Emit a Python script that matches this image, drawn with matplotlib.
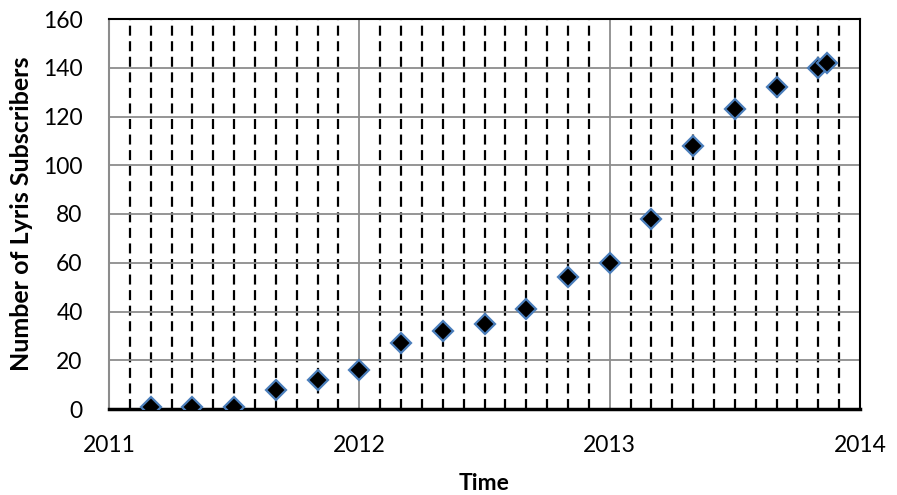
import numpy as np
import matplotlib.pyplot as plt
from matplotlib.ticker import MultipleLocator

plt.rcParams['font.family'] = ['Lato', 'DejaVu Sans']

# Data: bimonthly subscriber counts
time = [2011 + 2/12, 2011 + 4/12, 2011 + 6/12, 2011 + 8/12, 2011 + 10/12,
        2012.0, 2012 + 2/12, 2012 + 4/12, 2012 + 6/12, 2012 + 8/12, 2012 + 10/12,
        2013.0, 2013 + 2/12, 2013 + 4/12, 2013 + 6/12, 2013 + 8/12, 2013 + 10/12,
        2013.867]
subscribers = [1, 1, 1, 8, 12, 16, 27, 32, 35, 41, 54, 60, 78, 108, 123, 132, 140, 142]

fig = plt.figure(figsize=(8.97, 4.95), dpi=100)
ax = fig.add_axes([109/897, 1 - 409/495, 751/897, 390/495])

ax.set_xlim(2011, 2014)
ax.set_ylim(0, 160)
ax.xaxis.set_major_locator(MultipleLocator(1))
ax.xaxis.set_minor_locator(MultipleLocator(1/12))
ax.yaxis.set_major_locator(MultipleLocator(20))

ax.grid(which='major', axis='both', color='#8c8c8c', lw=1.3)
ax.grid(which='minor', axis='x', color='black', lw=1.6, linestyle=(0, (4.5, 2.5)))
ax.set_axisbelow(True)

ax.plot(time, subscribers, linestyle='none', marker='D', markersize=10.5,
        markerfacecolor='black', markeredgecolor='#4a7ebb', markeredgewidth=1.6,
        zorder=3)

ax.tick_params(axis='x', which='both', length=0, labelsize=16.5, pad=19)
ax.tick_params(axis='y', which='both', length=0, labelsize=16.5, pad=19)
ax.set_xticks([2011, 2012, 2013, 2014])
ax.set_xticklabels(['2011', '2012', '2013', '2014'])

for s in ['top', 'right']:
    ax.spines[s].set_color('black')
    ax.spines[s].set_linewidth(1.5)
ax.spines['bottom'].set_color('black')
ax.spines['bottom'].set_linewidth(2.5)
ax.spines['left'].set_color('#8c8c8c')
ax.spines['left'].set_linewidth(1.5)

ax.set_xlabel('Time', fontsize=16.5, fontweight='bold', va='center')
ax.xaxis.set_label_coords(0.5, -(484 - 409) / 390)
ax.set_ylabel('Number of Lyris Subscribers', fontsize=18, fontweight='bold', va='center')
ax.yaxis.set_label_coords(-(109 - 22) / 751, 0.5)

fig.savefig('out.png', dpi=100)
